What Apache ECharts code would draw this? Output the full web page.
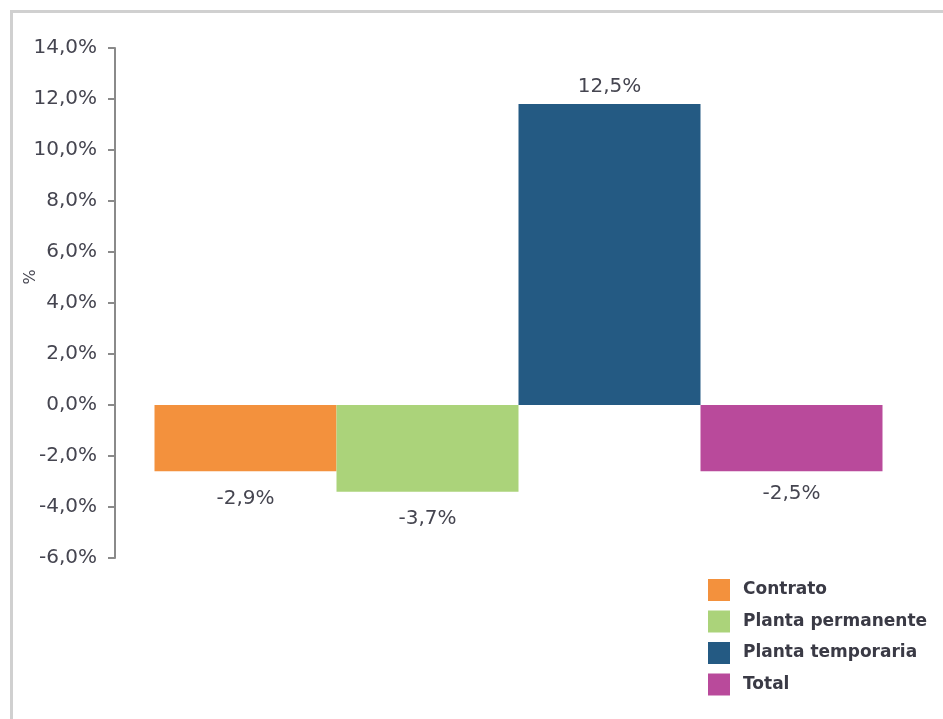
<!DOCTYPE html>
<html>
<head>
<meta charset="utf-8">
<title>Variación</title>
<script src="https://cdn.jsdelivr.net/npm/echarts@6/dist/echarts.min.js"></script>
<style>
	html, body { margin: 0; padding: 0; background: #fff; }
	#mainChart { width: 943px; height: 719px; }
</style>
</head>
<body>
<div id="mainChart"></div>
<script>
/**************************************数据********************************************/
var seriesNames = ['Contrato', 'Planta permanente', 'Planta temporaria', 'Total'];
var barValues = [-2.6, -3.4, 11.8, -2.6];			//柱子高度
var barLabels = ['-2,9%', '-3,7%', '12,5%', '-2,5%'];	//图上标注的文字
var barColors = ['#F3913D', '#ABD37A', '#245A83', '#B94A9B'];
var categories = [''];
/**************************************数据********************************************/

var fontName = 'DejaVu Sans';

function pctFormat(v){
	return v.toFixed(1).replace('.', ',') + '%';
}

//每个系列一根柱子
function buildSeries(){
	var list = [];
	var distances = [17, 17, 7, 12];
	for(var i = 0; i < seriesNames.length; i++){
		list.push({
			name: seriesNames[i],
			type: 'bar',
			barWidth: 182,
			barGap: 0,
			itemStyle: { color: barColors[i] },
			label: {
				show: true,
				position: barValues[i] < 0 ? 'bottom' : 'top',
				distance: distances[i],
				formatter: barLabels[i],
				color: '#454550',
				fontFamily: fontName,
				fontSize: 20
			},
			data: [barValues[i]]
		});
	}
	return list;
}

var mainChart = echarts.init(document.getElementById('mainChart'));
var option = {
	animation: false,
	backgroundColor: '#fff',
	grid: { left: 115, right: 21, top: 48, bottom: 161 },
	graphic: [{
		type: 'rect',
		shape: { x: 11.5, y: 11.5, width: 1000, height: 1000 },
		style: { fill: 'none', stroke: '#d0d0d0', lineWidth: 3 },
		silent: true
	}, {
		type: 'text',
		x: 31, y: 277,
		rotation: Math.PI / 2,
		style: {
			text: '%',
			fill: '#454550',
			font: '16px ' + fontName,
			align: 'center',
			verticalAlign: 'middle'
		}
	}],
	legend: {
		orient: 'vertical',
		left: 708,
		top: 579,
		padding: 0,
		itemWidth: 22,
		itemHeight: 22,
		itemGap: 9.5,
		icon: 'rect',
		selectedMode: false,
		textStyle: {
			color: '#3a3a45',
			fontFamily: fontName,
			fontWeight: 'bold',
			fontSize: 17,
			padding: [0, 0, 0, 8]
		},
		data: seriesNames
	},
	xAxis: {
		type: 'category',
		data: categories,
		show: false
	},
	yAxis: {
		type: 'value',
		min: -6,
		max: 14,
		interval: 2,
		axisLine: { show: true, lineStyle: { color: '#8a8a8a', width: 2 } },
		axisTick: { show: true, length: 7, lineStyle: { color: '#8a8a8a', width: 2 } },
		splitLine: { show: false },
		axisLabel: {
			margin: 18,
			color: '#454550',
			fontFamily: fontName,
			fontSize: 20,
			formatter: pctFormat
		}
	},
	series: buildSeries()
};
mainChart.setOption(option);
</script>
</body>
</html>
